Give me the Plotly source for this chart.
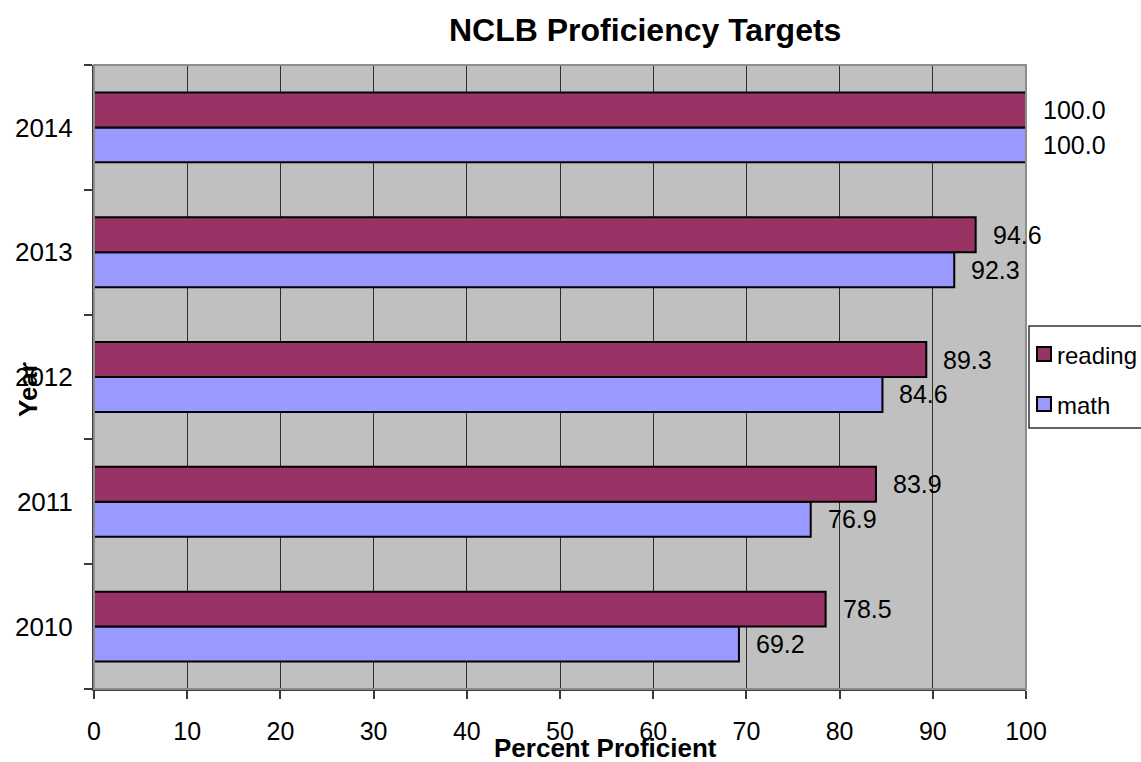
import plotly.graph_objects as go

# NCLB proficiency targets by year (percent proficient)
years = ["2010", "2011", "2012", "2013", "2014"]
reading = [78.5, 83.9, 89.3, 94.6, 100.0]
math_vals = [69.2, 76.9, 84.6, 92.3, 100.0]
x_ticks = [0, 10, 20, 30, 40, 50, 60, 70, 80, 90, 100]

READING_COLOR = "#993366"
MATH_COLOR = "#9999FF"
FONT = "Liberation Sans, Arial, sans-serif"

W, H = 1141, 762
L, R, T, B = 94, 115, 65, 73
plot_w = W - L - R
plot_h = H - T - B


def px_x(p):
    return (p - L) / plot_w


def px_y(p):
    return (H - B - p) / plot_h


fig = go.Figure()

# math first so it sits below reading within each year group
fig.add_trace(go.Bar(
    y=years, x=math_vals, orientation="h", name="math",
    marker=dict(color=MATH_COLOR, line=dict(color="black", width=2)),
    showlegend=False,
))
fig.add_trace(go.Bar(
    y=years, x=reading, orientation="h", name="reading",
    marker=dict(color=READING_COLOR, line=dict(color="black", width=2)),
    showlegend=False,
))

bargap = 0.44
band_px = plot_h / len(years)
bar_px = band_px * (1 - bargap) / 2

annotations = []
# value labels; category axes place annotations by category index
for i, (r_val, m_val) in enumerate(zip(reading, math_vals)):
    annotations.append(dict(
        x=r_val, y=i, xref="x", yref="y", text=f"{r_val:.1f}",
        showarrow=False, xanchor="left", yanchor="middle",
        xshift=15, yshift=bar_px / 2,
        font=dict(family=FONT, size=25, color="black"),
    ))
    annotations.append(dict(
        x=m_val, y=i, xref="x", yref="y", text=f"{m_val:.1f}",
        showarrow=False, xanchor="left", yanchor="middle",
        xshift=15, yshift=-bar_px / 2,
        font=dict(family=FONT, size=25, color="black"),
    ))

# title and axis titles
annotations.append(dict(
    x=px_x(645), y=px_y(30), xref="paper", yref="paper",
    text="<b>NCLB Proficiency Targets</b>", showarrow=False,
    xanchor="center", yanchor="middle",
    font=dict(family=FONT, size=32, color="black"),
))
annotations.append(dict(
    x=px_x(605), y=px_y(748), xref="paper", yref="paper",
    text="<b>Percent Proficient</b>", showarrow=False,
    xanchor="center", yanchor="middle",
    font=dict(family=FONT, size=26, color="black"),
))
annotations.append(dict(
    x=px_x(28), y=px_y(390), xref="paper", yref="paper",
    text="<b>Year</b>", showarrow=False, textangle=-90,
    xanchor="center", yanchor="middle",
    font=dict(family=FONT, size=26, color="black"),
))

# legend drawn as a boxed key on the right
legend_items = [("reading", READING_COLOR, 354), ("math", MATH_COLOR, 404)]
shapes = [
    # plot frame (top/right lighter)
    dict(type="rect", xref="paper", yref="paper", x0=0, x1=1, y0=0, y1=1,
         line=dict(color="#8C8C8C", width=2), layer="above"),
    dict(type="rect", xref="paper", yref="paper",
         x0=px_x(1029), x1=px_x(1160), y0=px_y(428), y1=px_y(326),
         line=dict(color="#333333", width=1.5), fillcolor="white"),
]
for name, color, cy in legend_items:
    shapes.append(dict(
        type="rect", xref="paper", yref="paper",
        x0=px_x(1037), x1=px_x(1051), y0=px_y(cy + 7), y1=px_y(cy - 7),
        line=dict(color="black", width=2), fillcolor=color,
    ))
    annotations.append(dict(
        x=px_x(1055), y=px_y(cy + 1), xref="paper", yref="paper",
        text=name, showarrow=False, xanchor="left", yanchor="middle",
        font=dict(family=FONT, size=24, color="black"),
    ))

fig.update_layout(
    width=W, height=H,
    margin=dict(l=L, r=R, t=T, b=B, autoexpand=False),
    paper_bgcolor="white", plot_bgcolor="#C0C0C0",
    barmode="group", bargap=bargap, bargroupgap=0,
    showlegend=False,
    annotations=annotations, shapes=shapes,
    font=dict(family=FONT, size=25, color="black"),
)
fig.update_xaxes(
    range=[0, 100], tickvals=x_ticks, ticktext=[str(v) for v in x_ticks],
    showgrid=True, gridcolor="#2E2E2E", gridwidth=1,
    showline=True, linecolor="#3A3A3A", linewidth=2,
    ticks="outside", ticklen=8, tickcolor="#3A3A3A", tickwidth=1.5,
    tickfont=dict(family=FONT, size=25, color="black"),
    ticklabelstandoff=11, zeroline=False, fixedrange=True,
)
fig.update_yaxes(
    type="category", categoryorder="array", categoryarray=years,
    range=[-0.5, len(years) - 0.5],
    showgrid=False, showline=True, linecolor="#3A3A3A", linewidth=2,
    ticks="outside", tickson="boundaries", ticklen=8,
    tickcolor="#3A3A3A", tickwidth=1.5,
    tickfont=dict(family=FONT, size=26, color="black"),
    ticklabelstandoff=14, fixedrange=True,
)

fig.write_html("out.html")
